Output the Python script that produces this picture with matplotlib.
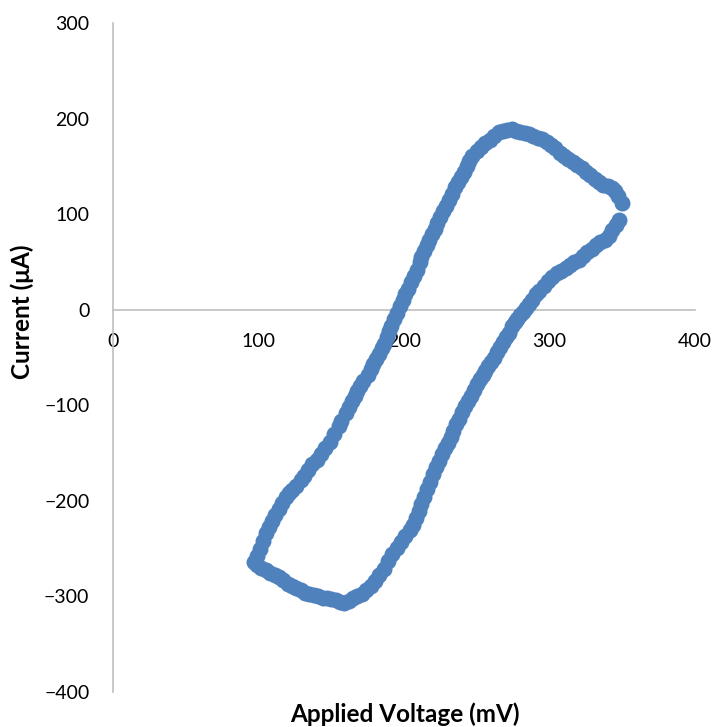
import numpy as np
import matplotlib
matplotlib.use("Agg")
import matplotlib.pyplot as plt

# forward (anodic) sweep: applied voltage (mV) and current (uA)
v_fwd = [97, 99, 101, 103, 105, 107, 109, 111, 114, 116, 119, 121, 123, 126, 129, 131,
         134, 137, 140, 143, 146, 149, 152, 155, 157, 160, 162, 164, 166, 168, 170, 172,
         175, 177, 179, 181, 183, 185, 186, 188, 190, 191, 193, 195, 197, 199, 201, 203,
         205, 207, 209, 211, 212, 214, 216, 217, 219, 221, 223, 225, 227, 229, 231, 233,
         235, 237, 239, 241, 243, 245, 247, 250, 253, 256, 259, 262, 265, 268, 271, 274,
         277, 280, 283, 286, 289, 292, 295, 298, 301, 304, 307, 310, 313, 316, 319, 322,
         325, 328, 331, 334, 337, 340, 343, 345, 347, 350]
i_fwd = [-264, -258, -250, -242, -234, -227, -221, -215, -208, -202, -196, -192, -189, -184, -178, -174,
         -168, -161, -157, -151, -145, -138, -130, -122, -116, -108, -102, -96, -90, -85, -80, -75,
         -68, -62, -57, -52, -46, -40, -36, -29, -22, -17, -10, -3, 4, 10, 16, 22,
         29, 35, 42, 50, 55, 61, 68, 73, 79, 84, 91, 97, 103, 108, 115, 121,
         128, 134, 139, 144, 150, 156, 161, 166, 170, 174, 178, 182, 186, 187, 188, 189,
         187, 186, 185, 184, 182, 180, 179, 175, 172, 169, 164, 161, 158, 155, 151, 148,
         144, 141, 137, 134, 131, 129, 127, 124, 119, 112]

# reverse (cathodic) sweep
v_rev = [348, 346, 343, 341, 338, 335, 332, 329, 326, 323, 320, 317, 314, 311, 308, 305,
         302, 299, 296, 293, 291, 288, 286, 284, 282, 280, 278, 276, 274, 272, 270, 268,
         266, 264, 262, 260, 258, 256, 254, 252, 250, 248, 246, 244, 242, 240, 238, 236,
         234, 232, 230, 228, 226, 224, 222, 220, 218, 216, 214, 212, 210, 208, 206, 204,
         201, 198, 195, 192, 189, 186, 183, 180, 177, 174, 171, 168, 165, 162, 159, 156,
         153, 150, 147, 144, 141, 138, 135, 132, 129, 126, 123, 120, 117, 114, 111, 108,
         105, 102, 99]
i_rev = [94, 89, 83, 77, 73, 71, 68, 64, 60, 56, 52, 50, 47, 44, 41, 38,
         34, 30, 25, 20, 16, 10, 6, 2, -2, -6, -10, -13, -17, -24, -29, -34,
         -39, -44, -50, -55, -59, -64, -68, -73, -78, -84, -90, -95, -101, -107, -114, -120,
         -127, -133, -139, -145, -151, -158, -165, -172, -180, -188, -196, -203, -211, -218, -225, -230,
         -237, -243, -249, -256, -263, -271, -278, -284, -289, -293, -297, -300, -302, -305, -307, -306,
         -304, -303, -302, -302, -300, -298, -297, -296, -293, -291, -289, -287, -283, -280, -278, -275,
         -272, -270, -267]

x_ticks = [0, 100, 200, 300, 400]
y_ticks = [-400, -300, -200, -100, 0, 100, 200, 300]

plt.rcParams["font.family"] = ["Lato", "DejaVu Sans"]

fig = plt.figure(figsize=(7.17, 7.27), dpi=100)
ax = fig.add_axes([113 / 717, 1 - 692 / 727, 582 / 717, 669 / 727])

volt = np.array(v_fwd + v_rev, dtype=float)
curr = np.array(i_fwd + i_rev, dtype=float)
ax.plot(volt, curr, "o", ls="none", ms=11.5, mew=0, color="#4F81BD", zorder=3)

ax.set_xlim(0, 400)
ax.set_ylim(-400, 300)
ax.set_xticks(x_ticks)
ax.set_yticks(y_ticks)

for s in ("top", "right"):
    ax.spines[s].set_visible(False)
ax.spines["bottom"].set_position(("data", 0))
for s in ("left", "bottom"):
    ax.spines[s].set_color("#BFBFBF")
    ax.spines[s].set_linewidth(1.2)

ax.tick_params(axis="both", length=0, labelsize=14, colors="black")
ax.tick_params(axis="y", pad=17)
ax.tick_params(axis="x", pad=17)

fig.text(405 / 717, 1 - 714 / 727, "Applied Voltage (mV)", ha="center", va="center",
         fontsize=17.5, fontweight="bold")
fig.text(22 / 717, 1 - 312 / 727, "Current (μA)", ha="center", va="center",
         rotation=90, fontsize=17.5, fontweight="bold")

fig.savefig("out.png", dpi=100)
